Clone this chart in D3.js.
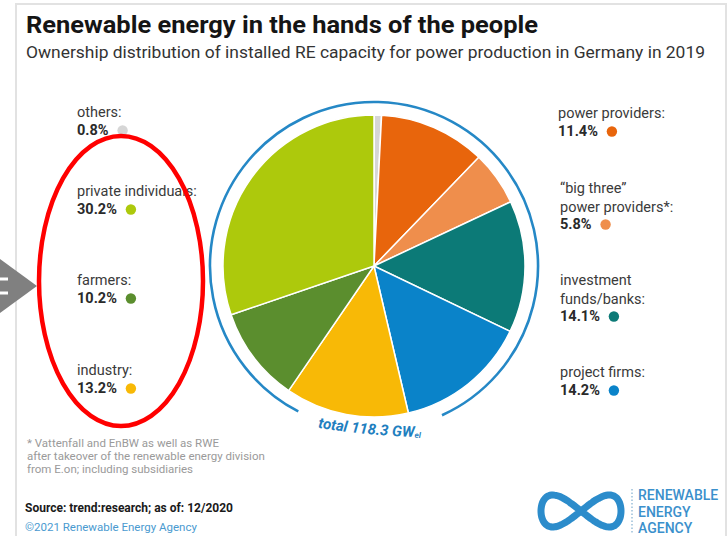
<!DOCTYPE html>
<html><head><meta charset="utf-8">
<script src="https://cdn.jsdelivr.net/npm/d3@7/dist/d3.min.js"></script>
<style>html,body{margin:0;padding:0;background:#fff;}svg{display:block;font-family:Roboto,"Noto Sans",sans-serif;}</style>
</head><body><svg id="c" width="728" height="536"></svg>
<script>
// ---- data ----
const categories = ["others", "power providers", "\u201cbig three\u201d power providers*", "investment funds/banks", "project firms", "industry", "farmers", "private individuals"];
const labelLines = [["others:"], ["power providers:"], ["\u201cbig three\u201d", "power providers*:"], ["investment", "funds/banks:"], ["project firms:"], ["industry:"], ["farmers:"], ["private individuals:"]];
const values = [0.8, 11.4, 5.8, 14.1, 14.2, 13.2, 10.2, 30.2];
const colors = ["#d6d6d6", "#e8650c", "#ef8e4c", "#0c7a77", "#0a83c9", "#f8b906", "#5b8e2e", "#adc90c"];
const totalLabel = "total 118.3 GW";
const totalUnit = "el";
const title = "Renewable energy in the hands of the people";
const subtitle = "Ownership distribution of installed RE capacity for power production in Germany in 2019";
const footnote = ["* Vattenfall and EnBW as well as RWE", "after takeover of the renewable energy division", "from E.on; including subsidiaries"];
const source = "Source: trend:research; as of: 12/2020";
const copyright = "\u00a92021 Renewable Energy Agency";
const logoLines = ["RENEWABLE", "ENERGY", "AGENCY"];

// ---- layout ----
const svg = d3.select("#c");
const cx = 374, cy = 266, R = 151;
const labelPos = [
  {x: 77, y: 117}, {x: 558, y: 118}, {x: 560, y: 193}, {x: 560, y: 285},
  {x: 560, y: 377}, {x: 77, y: 375}, {x: 77, y: 285}, {x: 77, y: 196}
];

// frame
svg.append("path").attr("d", "M16,536 V4 H726 V536").attr("fill", "none").attr("stroke", "#e2e2e2").attr("stroke-width", 2);

// title
svg.append("text").attr("x", 26).attr("y", 33).attr("font-size", 24).attr("font-weight", 700)
  .attr("fill", "#151515").attr("textLength", 512).attr("lengthAdjust", "spacingAndGlyphs").text(title);
svg.append("text").attr("x", 26).attr("y", 58).attr("font-size", 16.5).attr("fill", "#333")
  .attr("textLength", 679).attr("lengthAdjust", "spacingAndGlyphs").text(subtitle);

// pie
const pie = d3.pie().sort(null).value(d => d)(values);
const arc = d3.arc().innerRadius(0).outerRadius(R);
const g = svg.append("g").attr("transform", `translate(${cx},${cy})`);
g.selectAll("path.slice").data(pie).join("path").attr("class", "slice")
  .attr("d", arc).attr("fill", (d, i) => colors[i]).attr("stroke", "#fff").attr("stroke-width", 1.5);

// ring
const ringArc = d3.arc().innerRadius(164).outerRadius(164)
  .startAngle(207.5 * Math.PI / 180).endAngle(515.5 * Math.PI / 180);
g.append("path").attr("d", ringArc()).attr("fill", "none").attr("stroke", "#2588c6").attr("stroke-width", 2.6);

// total label on curve
svg.append("defs").append("path").attr("id", "tp")
  .attr("d", "M300,424.5 A700,700 0 0 0 470,436");
const tt = svg.append("text").attr("font-size", 15).attr("font-weight", 700).attr("font-style", "italic").attr("fill", "#1f7fc0");
const tpath = tt.append("textPath").attr("href", "#tp").attr("startOffset", 18);
tpath.append("tspan").text(totalLabel);
tpath.append("tspan").attr("font-size", 8).attr("dy", 1).text(totalUnit);

// labels
categories.forEach((c, i) => {
  const p = labelPos[i];
  const lines = labelLines[i];
  lines.forEach((l, k) => {
    svg.append("text").attr("x", p.x).attr("y", p.y + k * 18.5).attr("font-size", 14.5)
      .attr("fill", "#3a3a3a").text(l);
  });
  const py = p.y + lines.length * 18;
  const t = svg.append("text").attr("x", p.x).attr("y", py).attr("font-size", 14.5).attr("font-weight", 700)
    .attr("fill", "#2a2a2a").text(values[i].toFixed(1) + "%");
  const w = t.node().getComputedTextLength();
  svg.append("circle").attr("cx", p.x + w + 14).attr("cy", py - 4.5).attr("r", 5.2).attr("fill", colors[i]);
});

// footnote
footnote.forEach((l, k) => {
  svg.append("text").attr("x", 27).attr("y", 447 + k * 13).attr("font-size", 11.5).attr("fill", "#9a9a9a").text(l);
});
svg.append("text").attr("x", 25).attr("y", 512).attr("font-size", 12).attr("font-weight", 700).attr("fill", "#1a1a1a").text(source);
svg.append("text").attr("x", 25).attr("y", 531).attr("font-size", 11.5).attr("fill", "#4a9ad0").text(copyright);

// logo
const lem = d3.range(0, 2 * Math.PI, 0.05).map(t => [581 + 40 * Math.cos(t), 511 + 32 * Math.sin(t) * Math.cos(t)]);
svg.append("path").attr("d", d3.line().curve(d3.curveCatmullRomClosed)(lem))
  .attr("fill", "none").attr("stroke", "#2c8ccb").attr("stroke-width", 7);
svg.append("line").attr("x1", 632).attr("x2", 632).attr("y1", 489).attr("y2", 534)
  .attr("stroke", "#9bbfd9").attr("stroke-width", 1.5).attr("stroke-dasharray", "1.5,2");
logoLines.forEach((l, k) => {
  svg.append("text").attr("x", 638).attr("y", 500 + k * 16.5).attr("font-size", 14).attr("font-weight", 500)
    .attr("fill", "#3b90cc").text(l);
});

// annotations: red ellipse and gray arrow
svg.append("ellipse").attr("cx", 121).attr("cy", 281).attr("rx", 82).attr("ry", 145)
  .attr("fill", "none").attr("stroke", "#ff0000").attr("stroke-width", 4.5);
svg.append("path").attr("d", "M0,259 L37,286 L0,313 Z").attr("fill", "#808080");
svg.append("path").attr("d", "M0,279 H8 M0,293 H8").attr("stroke", "#fff").attr("stroke-width", 3);
</script></body></html>
